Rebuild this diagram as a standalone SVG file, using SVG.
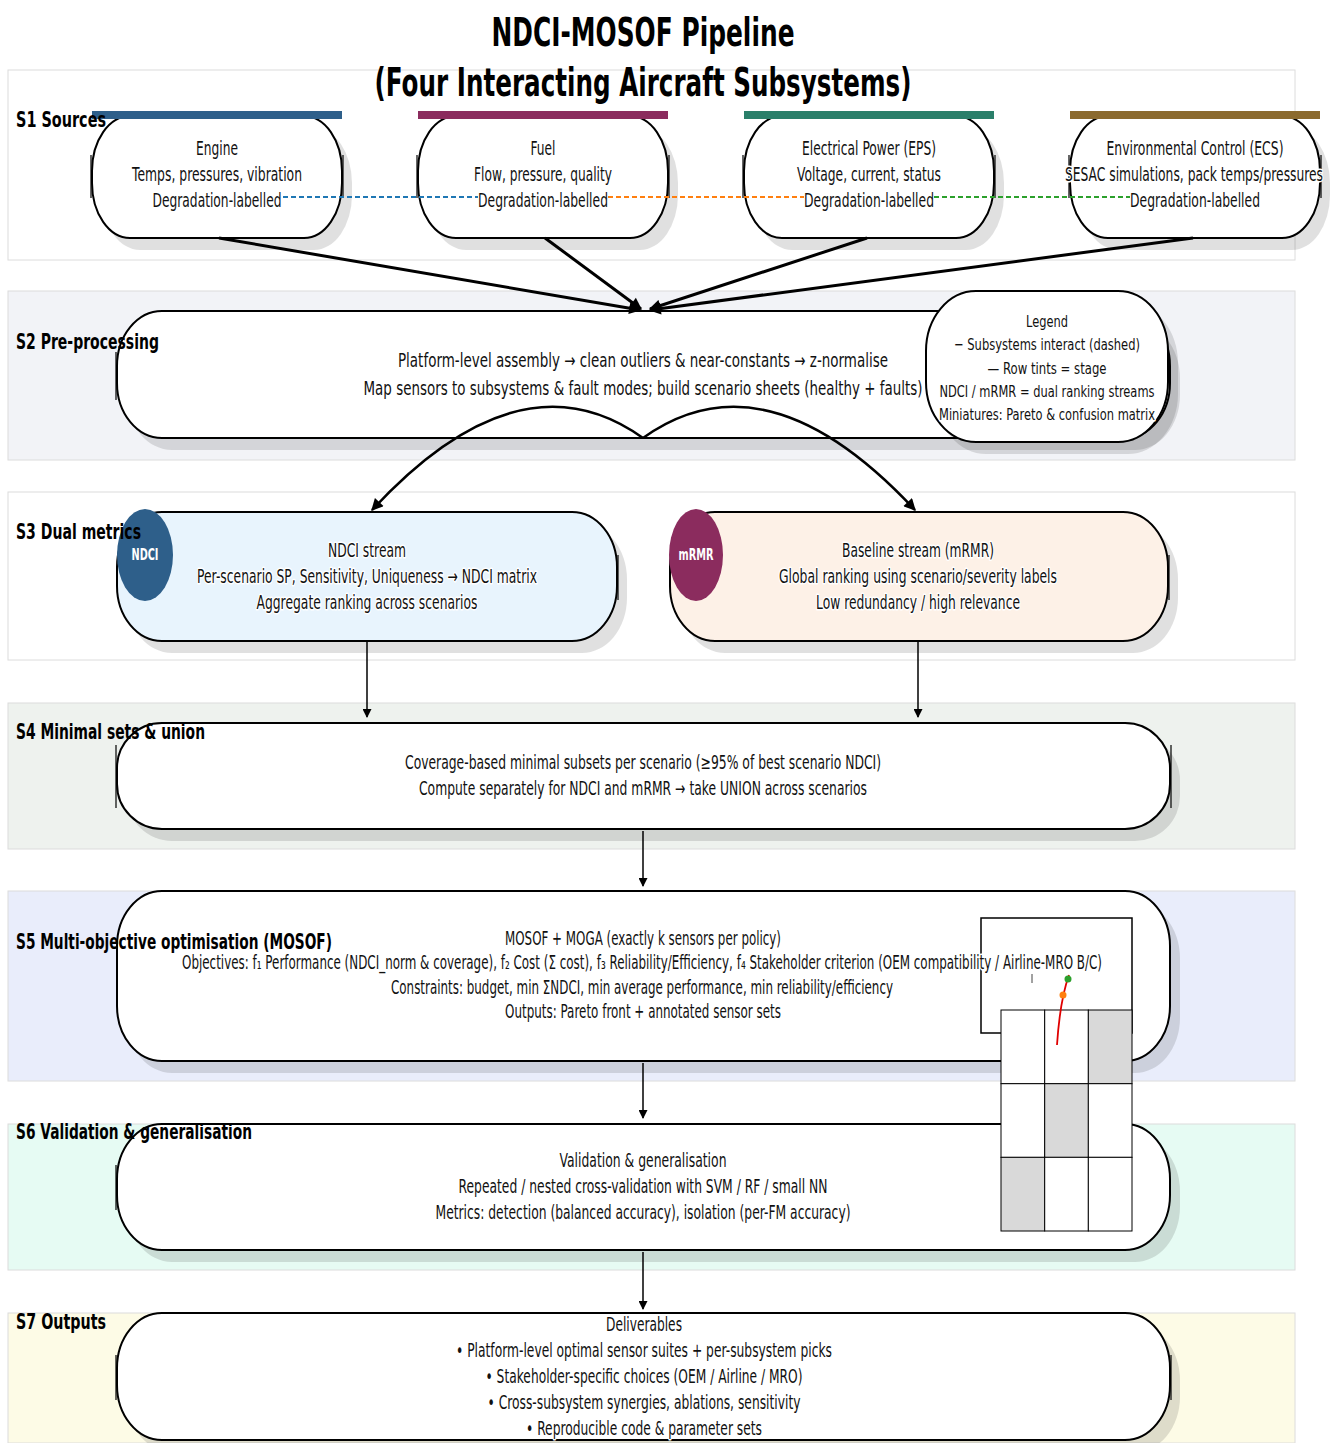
<svg xmlns="http://www.w3.org/2000/svg" width="1335" height="1443" viewBox="0 0 1335 1443">
<defs>
<style>
.band{stroke:#dcdcdc;stroke-width:1}
.shadow{fill:#000;fill-opacity:0.12}
.node{fill:#fff;stroke:#000;stroke-width:2}
.tick{stroke:#000;stroke-width:1.2}
.t{font-family:"DejaVu Sans","Liberation Sans",sans-serif;font-size:19px;fill:#111;text-anchor:middle;stroke:#fff;stroke-width:3;paint-order:stroke;stroke-linejoin:round}
.lg{font-size:16.5px}
.lbl{font-family:"DejaVu Sans","Liberation Sans",sans-serif;font-size:22px;font-weight:bold;fill:#000}
.ttl{font-family:"DejaVu Sans","Liberation Sans",sans-serif;font-size:39px;font-weight:bold;fill:#000;text-anchor:middle}
.badge{font-family:"DejaVu Sans","Liberation Sans",sans-serif;font-size:15px;font-weight:bold;fill:#fff;text-anchor:middle}
.thick{stroke:#000;stroke-width:3;fill:none}
.arc{stroke:#000;stroke-width:2.5;fill:none}
.thin{stroke:#000;stroke-width:1.5;fill:none}
.cell{stroke:#000;stroke-width:1}
</style>
<marker id="ahBig" viewBox="0 0 10 10" refX="9" refY="5" markerWidth="15" markerHeight="12" markerUnits="userSpaceOnUse" orient="auto"><path d="M0,0 L10,5 L0,10 z" fill="#000"/></marker>
<marker id="ahSmall" viewBox="0 0 10 10" refX="9" refY="5" markerWidth="11" markerHeight="9" markerUnits="userSpaceOnUse" orient="auto"><path d="M0,0 L10,5 L0,10 z" fill="#000"/></marker>
</defs>
<rect width="1335" height="1443" fill="#fff"/>

<g id="bands">
<rect class="band" x="8" y="70" width="1287" height="190" fill="#ffffff"/>
<rect class="band" x="8" y="291" width="1287" height="169" fill="#f2f3f7"/>
<rect class="band" x="8" y="492" width="1287" height="168" fill="#ffffff"/>
<rect class="band" x="8" y="703" width="1287" height="146" fill="#eef2ee"/>
<rect class="band" x="8" y="891" width="1287" height="190" fill="#e9edfb"/>
<rect class="band" x="8" y="1124" width="1287" height="146" fill="#e6fbf3"/>
<rect class="band" x="8" y="1313" width="1287" height="130" fill="#fdfbe6"/>
</g>

<g id="title">
<text class="ttl" x="643" y="46" textLength="303" lengthAdjust="spacingAndGlyphs">NDCI-MOSOF Pipeline</text>
<text class="ttl" x="643" y="96" textLength="537" lengthAdjust="spacingAndGlyphs">(Four Interacting Aircraft Subsystems)</text>
</g>

<g id="node-engine">
<rect class="shadow" x="102" y="128" width="250" height="122" rx="38" ry="55"/>
<rect class="node" x="92" y="116" width="250" height="122" rx="38" ry="55"/>
<line class="tick" x1="91" y1="155" x2="91" y2="198"/><line class="tick" x1="343" y1="155" x2="343" y2="198"/>
<rect x="92" y="111" width="250" height="8" fill="#2e5f8a"/>
<text class="t" x="217" y="155" textLength="42" lengthAdjust="spacingAndGlyphs">Engine</text>
<text class="t" x="217" y="181" textLength="170" lengthAdjust="spacingAndGlyphs">Temps, pressures, vibration</text>
<text class="t" x="217" y="207" textLength="129" lengthAdjust="spacingAndGlyphs">Degradation-labelled</text>
</g>

<g id="node-fuel">
<rect class="shadow" x="428" y="128" width="250" height="122" rx="38" ry="55"/>
<rect class="node" x="418" y="116" width="250" height="122" rx="38" ry="55"/>
<line class="tick" x1="417" y1="155" x2="417" y2="198"/><line class="tick" x1="669" y1="155" x2="669" y2="198"/>
<rect x="418" y="111" width="250" height="8" fill="#8b2c5e"/>
<text class="t" x="543" y="155" textLength="25" lengthAdjust="spacingAndGlyphs">Fuel</text>
<text class="t" x="543" y="181" textLength="138" lengthAdjust="spacingAndGlyphs">Flow, pressure, quality</text>
<text class="t" x="543" y="207" textLength="130" lengthAdjust="spacingAndGlyphs">Degradation-labelled</text>
</g>

<g id="node-eps">
<rect class="shadow" x="754" y="128" width="250" height="122" rx="38" ry="55"/>
<rect class="node" x="744" y="116" width="250" height="122" rx="38" ry="55"/>
<line class="tick" x1="743" y1="155" x2="743" y2="198"/><line class="tick" x1="995" y1="155" x2="995" y2="198"/>
<rect x="744" y="111" width="250" height="8" fill="#2a7f6a"/>
<text class="t" x="869" y="155" textLength="134" lengthAdjust="spacingAndGlyphs">Electrical Power (EPS)</text>
<text class="t" x="869" y="181" textLength="144" lengthAdjust="spacingAndGlyphs">Voltage, current, status</text>
<text class="t" x="869" y="207" textLength="130" lengthAdjust="spacingAndGlyphs">Degradation-labelled</text>
</g>

<g id="node-ecs">
<rect class="shadow" x="1080" y="128" width="250" height="122" rx="38" ry="55"/>
<rect class="node" x="1070" y="116" width="250" height="122" rx="38" ry="55"/>
<line class="tick" x1="1069" y1="155" x2="1069" y2="198"/><line class="tick" x1="1321" y1="155" x2="1321" y2="198"/>
<rect x="1070" y="111" width="250" height="8" fill="#8b6a2e"/>
<text class="t" x="1195" y="155" textLength="177" lengthAdjust="spacingAndGlyphs">Environmental Control (ECS)</text>
<text class="t" x="1194" y="181" textLength="258" lengthAdjust="spacingAndGlyphs">SESAC simulations, pack temps/pressures</text>
<text class="t" x="1195" y="207" textLength="130" lengthAdjust="spacingAndGlyphs">Degradation-labelled</text>
</g>

<g id="node-preprocessing">
<rect class="shadow" x="127" y="323" width="1053" height="127" rx="45" ry="55"/>
<rect class="node" x="117" y="311" width="1053" height="127" rx="45" ry="55"/>
<line class="tick" x1="116" y1="352" x2="116" y2="400"/>
<text class="t" x="643" y="367" textLength="490" lengthAdjust="spacingAndGlyphs">Platform-level assembly → clean outliers &amp; near-constants → z-normalise</text>
<text class="t" x="643" y="395" textLength="559" lengthAdjust="spacingAndGlyphs">Map sensors to subsystems &amp; fault modes; build scenario sheets (healthy + faults)</text>
</g>

<g id="node-legend">
<rect class="shadow" x="936" y="303" width="242" height="151" rx="50" ry="60"/>
<rect class="node" x="926" y="291" width="242" height="151" rx="50" ry="60"/>
<text class="t lg" x="1047" y="327" textLength="42" lengthAdjust="spacingAndGlyphs">Legend</text>
<text class="t lg" x="1047" y="350" textLength="186" lengthAdjust="spacingAndGlyphs">−  Subsystems interact (dashed)</text>
<text class="t lg" x="1047" y="374" textLength="119" lengthAdjust="spacingAndGlyphs">—  Row tints = stage</text>
<text class="t lg" x="1047" y="397" textLength="215" lengthAdjust="spacingAndGlyphs">NDCI / mRMR = dual ranking streams</text>
<text class="t lg" x="1047" y="420" textLength="216" lengthAdjust="spacingAndGlyphs">Miniatures: Pareto &amp; confusion matrix</text>
</g>

<g id="node-ndci">
<rect class="shadow" x="127" y="524" width="500" height="129" rx="45" ry="55"/>
<rect class="node" x="117" y="512" width="500" height="129" rx="45" ry="55" style="fill:#e8f4fd"/>
<line class="tick" x1="618" y1="555" x2="618" y2="600"/>
<ellipse cx="145" cy="555" rx="28" ry="46" fill="#2e5f8a"/>
<text class="badge" x="145" y="560" textLength="27" lengthAdjust="spacingAndGlyphs">NDCI</text>
<text class="t" x="367" y="557" textLength="78" lengthAdjust="spacingAndGlyphs">NDCI stream</text>
<text class="t" x="367" y="583" textLength="340" lengthAdjust="spacingAndGlyphs">Per-scenario SP, Sensitivity, Uniqueness → NDCI matrix</text>
<text class="t" x="367" y="609" textLength="221" lengthAdjust="spacingAndGlyphs">Aggregate ranking across scenarios</text>
</g>

<g id="node-mrmr">
<rect class="shadow" x="680" y="524" width="498" height="129" rx="45" ry="55"/>
<rect class="node" x="670" y="512" width="498" height="129" rx="45" ry="55" style="fill:#fdf1e7"/>
<line class="tick" x1="1169" y1="555" x2="1169" y2="600"/>
<ellipse cx="696" cy="555" rx="27" ry="46" fill="#8b2c5e"/>
<text class="badge" x="696" y="560" textLength="35" lengthAdjust="spacingAndGlyphs">mRMR</text>
<text class="t" x="918" y="557" textLength="152" lengthAdjust="spacingAndGlyphs">Baseline stream (mRMR)</text>
<text class="t" x="918" y="583" textLength="278" lengthAdjust="spacingAndGlyphs">Global ranking using scenario/severity labels</text>
<text class="t" x="918" y="609" textLength="204" lengthAdjust="spacingAndGlyphs">Low redundancy / high relevance</text>
</g>

<g id="node-minimal-sets">
<rect class="shadow" x="127" y="735" width="1053" height="106" rx="45" ry="45"/>
<rect class="node" x="117" y="723" width="1053" height="106" rx="45" ry="45"/>
<line class="tick" x1="116" y1="745" x2="116" y2="808"/><line class="tick" x1="1171" y1="745" x2="1171" y2="808"/>
<text class="t" x="643" y="769" textLength="476" lengthAdjust="spacingAndGlyphs">Coverage-based minimal subsets per scenario (≥95% of best scenario NDCI)</text>
<text class="t" x="643" y="795" textLength="448" lengthAdjust="spacingAndGlyphs">Compute separately for NDCI and mRMR → take UNION across scenarios</text>
</g>

<g id="node-mosof">
<rect class="shadow" x="127" y="903" width="1053" height="170" rx="45" ry="55"/>
<rect class="node" x="117" y="891" width="1053" height="170" rx="45" ry="55"/>
<g id="pareto-miniature">
<rect x="981" y="918" width="151" height="115" fill="#fff" stroke="#000" stroke-width="1.5"/>
<line x1="1032" y1="974" x2="1032" y2="983" stroke="#444" stroke-width="1"/>
</g>
<text class="t" x="643" y="945" textLength="276" lengthAdjust="spacingAndGlyphs">MOSOF + MOGA (exactly k sensors per policy)</text>
<text class="t" x="642" y="969" textLength="920" lengthAdjust="spacingAndGlyphs">Objectives: f₁ Performance (NDCI_norm &amp; coverage), f₂ Cost (Σ cost), f₃ Reliability/Efficiency, f₄ Stakeholder criterion (OEM compatibility / Airline-MRO B/C)</text>
<text class="t" x="642" y="994" textLength="502" lengthAdjust="spacingAndGlyphs">Constraints: budget, min ΣNDCI, min average performance, min reliability/efficiency</text>
<text class="t" x="643" y="1018" textLength="276" lengthAdjust="spacingAndGlyphs">Outputs: Pareto front + annotated sensor sets</text>
</g>

<g id="node-validation">
<rect class="shadow" x="127" y="1136" width="1053" height="126" rx="45" ry="55"/>
<rect class="node" x="117" y="1124" width="1053" height="126" rx="45" ry="55"/>
<line class="tick" x1="116" y1="1165" x2="116" y2="1210"/>
<text class="t" x="643" y="1167" textLength="167" lengthAdjust="spacingAndGlyphs">Validation &amp; generalisation</text>
<text class="t" x="643" y="1193" textLength="369" lengthAdjust="spacingAndGlyphs">Repeated / nested cross-validation with SVM / RF / small NN</text>
<text class="t" x="643" y="1219" textLength="415" lengthAdjust="spacingAndGlyphs">Metrics: detection (balanced accuracy), isolation (per-FM accuracy)</text>
</g>

<g id="node-outputs">
<rect class="shadow" x="127" y="1325" width="1053" height="127" rx="45" ry="55"/>
<rect class="node" x="117" y="1313" width="1053" height="127" rx="45" ry="55"/>
<line class="tick" x1="116" y1="1355" x2="116" y2="1400"/><line class="tick" x1="1171" y1="1355" x2="1171" y2="1400"/>
<text class="t" x="644" y="1331" textLength="76" lengthAdjust="spacingAndGlyphs">Deliverables</text>
<text class="t" x="644" y="1357" textLength="376" lengthAdjust="spacingAndGlyphs">• Platform-level optimal sensor suites + per-subsystem picks</text>
<text class="t" x="644" y="1383" textLength="317" lengthAdjust="spacingAndGlyphs">• Stakeholder-specific choices (OEM / Airline / MRO)</text>
<text class="t" x="644" y="1409" textLength="313" lengthAdjust="spacingAndGlyphs">• Cross-subsystem synergies, ablations, sensitivity</text>
<text class="t" x="644" y="1435" textLength="236" lengthAdjust="spacingAndGlyphs">• Reproducible code &amp; parameter sets</text>
</g>

<g id="stage-labels">
<text class="lbl" x="16" y="127" textLength="90" lengthAdjust="spacingAndGlyphs">S1  Sources</text>
<text class="lbl" x="16" y="349" textLength="143" lengthAdjust="spacingAndGlyphs">S2  Pre-processing</text>
<text class="lbl" x="16" y="539" textLength="125" lengthAdjust="spacingAndGlyphs">S3  Dual metrics</text>
<text class="lbl" x="16" y="739" textLength="189" lengthAdjust="spacingAndGlyphs">S4  Minimal sets &amp; union</text>
<text class="lbl" x="16" y="949" textLength="316" lengthAdjust="spacingAndGlyphs">S5  Multi-objective optimisation (MOSOF)</text>
<text class="lbl" x="16" y="1139" textLength="236" lengthAdjust="spacingAndGlyphs">S6  Validation &amp; generalisation</text>
<text class="lbl" x="16" y="1329" textLength="90" lengthAdjust="spacingAndGlyphs">S7  Outputs</text>
</g>

<g id="connectors">
<line x1="283" y1="197" x2="478" y2="197" stroke="#1f77b4" stroke-width="1.8" stroke-dasharray="5,3"/>
<line x1="608" y1="197" x2="804" y2="197" stroke="#ff7f0e" stroke-width="1.8" stroke-dasharray="5,3"/>
<line x1="934" y1="197" x2="1130" y2="197" stroke="#2ca02c" stroke-width="1.8" stroke-dasharray="5,3"/>
<line class="thick" x1="219" y1="238" x2="640" y2="310" marker-end="url(#ahBig)"/>
<line class="thick" x1="545" y1="238" x2="641" y2="309" marker-end="url(#ahBig)"/>
<line class="thick" x1="867" y1="238" x2="650" y2="309" marker-end="url(#ahBig)"/>
<line class="thick" x1="1193" y1="238" x2="650" y2="310" marker-end="url(#ahBig)"/>
<path class="arc" d="M643,438 Q520,350 372,510" marker-end="url(#ahBig)"/>
<path class="arc" d="M643,438 Q766,350 915,510" marker-end="url(#ahBig)"/>
<line class="thin" x1="367" y1="642" x2="367" y2="717" marker-end="url(#ahSmall)"/>
<line class="thin" x1="918" y1="642" x2="918" y2="717" marker-end="url(#ahSmall)"/>
<line class="thin" x1="643" y1="831" x2="643" y2="886" marker-end="url(#ahSmall)"/>
<line class="thin" x1="643" y1="1063" x2="643" y2="1118" marker-end="url(#ahSmall)"/>
<line class="thin" x1="643" y1="1252" x2="643" y2="1309" marker-end="url(#ahSmall)"/>
</g>

<g id="confusion-matrix">
<rect class="cell" x="1001" y="1010" width="43.7" height="73.7" fill="#fff"/>
<rect class="cell" x="1044.7" y="1010" width="43.7" height="73.7" fill="#fff"/>
<rect class="cell" x="1088.3" y="1010" width="43.7" height="73.7" fill="#d9d9d9"/>
<rect class="cell" x="1001" y="1083.7" width="43.7" height="73.7" fill="#fff"/>
<rect class="cell" x="1044.7" y="1083.7" width="43.7" height="73.7" fill="#d9d9d9"/>
<rect class="cell" x="1088.3" y="1083.7" width="43.7" height="73.7" fill="#fff"/>
<rect class="cell" x="1001" y="1157.3" width="43.7" height="73.7" fill="#d9d9d9"/>
<rect class="cell" x="1044.7" y="1157.3" width="43.7" height="73.7" fill="#fff"/>
<rect class="cell" x="1088.3" y="1157.3" width="43.7" height="73.7" fill="#fff"/>
</g>

<g id="pareto-curve">
<path d="M1057,1045 Q1060,1000 1069,975" fill="none" stroke="#e00000" stroke-width="1.8"/>
<circle cx="1063" cy="995" r="3.5" fill="#ff7f0e"/>
<circle cx="1068" cy="979" r="3.5" fill="#2ca02c"/>
</g>
</svg>
